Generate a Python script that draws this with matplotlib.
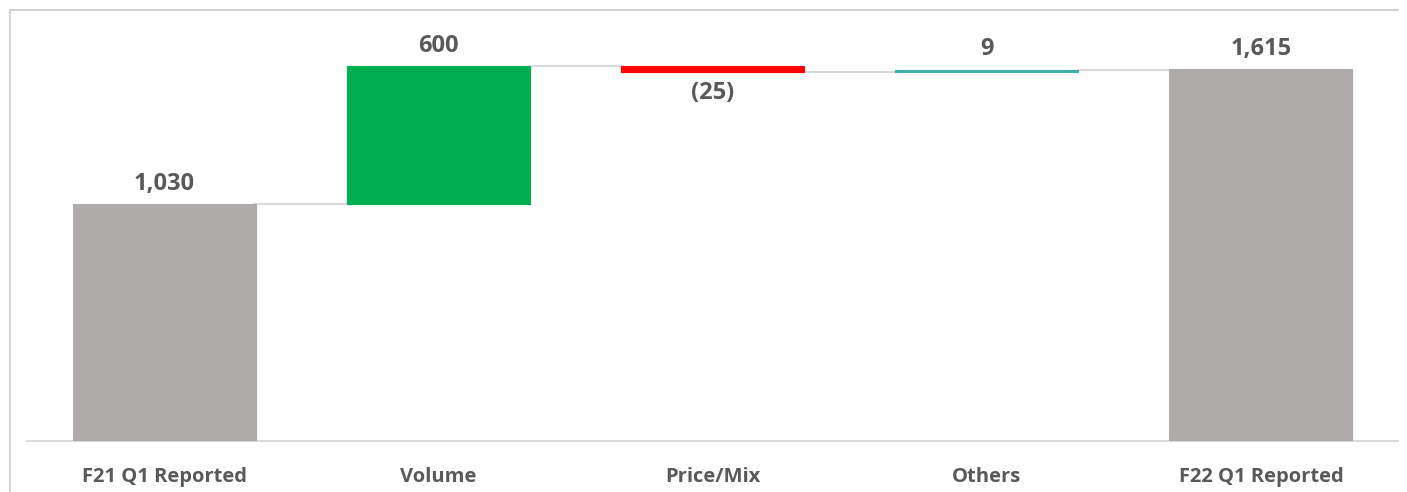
import numpy as np
import matplotlib.pyplot as plt
from matplotlib.lines import Line2D

categories = ['F21 Q1 Reported', 'Volume', 'Price/Mix', 'Others', 'F22 Q1 Reported']
changes = [1030, 600, -25, 9, 1615]
labels = ['1,030', '600', '(25)', '9', '1,615']
colors = ['#AFABAB', '#00B050', '#FF0000', '#3FB0A8', '#AFABAB']
txt = '#595959'

# bottoms for the waterfall
bottoms = []
tops = []
run = 0
for i, v in enumerate(changes):
    if i == 0 or i == len(changes) - 1:
        b, t = 0, v
        run = v
    else:
        b, t = (run, run + v) if v >= 0 else (run + v, run)
        run += v
    bottoms.append(b)
    tops.append(t)
heights = [t - b for b, t in zip(bottoms, tops)]

fig = plt.figure(figsize=(14.07, 4.92), dpi=100)
ax = fig.add_axes([27/1407, 1 - 441/492, 1371/1407, 431/492])
x = np.arange(len(categories))
ax.bar(x, heights, bottom=bottoms, width=0.667, color=colors, edgecolor=colors,
       linewidth=0.8, zorder=3)
ax.set_xlim(-0.5, len(categories) - 0.5)
ax.set_ylim(0, 1873)

# connectors
run = 0
levels = []
for i, v in enumerate(changes):
    run = v if i == 0 else (run + v if i < len(changes) - 1 else run)
    levels.append(run)
for i in range(len(categories) - 1):
    ax.plot([x[i] + 0.333, x[i + 1] - 0.333], [levels[i], levels[i]],
            color='#D9D9D9', lw=1.5, zorder=2)

# value labels
for i, (lab, v) in enumerate(zip(labels, changes)):
    if v < 0:
        ax.annotate(lab, (x[i], bottoms[i]), xytext=(0, -7), textcoords='offset points',
                    ha='center', va='top', fontsize=17, fontweight='bold', color=txt,
                    family='Open Sans')
    else:
        ax.annotate(lab, (x[i], tops[i]), xytext=(0, 6), textcoords='offset points',
                    ha='center', va='bottom', fontsize=17, fontweight='bold', color=txt,
                    family='Open Sans')

for s in ['top', 'right', 'left']:
    ax.spines[s].set_visible(False)
ax.spines['bottom'].set_color('#D9D9D9')
ax.spines['bottom'].set_linewidth(1.5)
ax.set_yticks([])
ax.set_xticks(x)
ax.set_xticklabels(categories, fontsize=14.5, fontweight='bold', color=txt, family='Open Sans')
ax.tick_params(axis='x', length=0, pad=19)

# outer frame (top and left edges)
fig.add_artist(Line2D([10/1407, 1398/1407], [1 - 10/492, 1 - 10/492], color='#C8C8C8', lw=1.2))
fig.add_artist(Line2D([10/1407, 10/1407], [0, 1 - 10/492], color='#C8C8C8', lw=1.2))

plt.savefig('out.png', dpi=100)
